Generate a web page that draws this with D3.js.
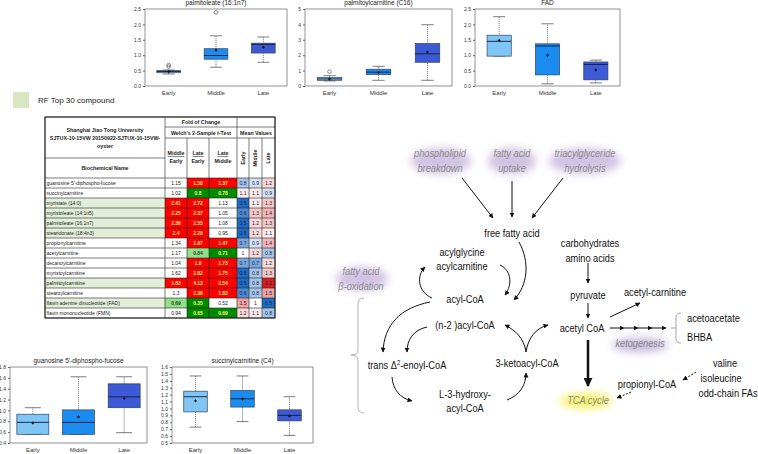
<!DOCTYPE html>
<html>
<head>
<meta charset="utf-8">
<script src="https://cdn.jsdelivr.net/npm/d3@7"></script>
<style>
body{margin:0;background:#fff;}
svg{font-family:"Liberation Sans",Arial,sans-serif;}
</style>
</head>
<body>
<div id="chart"></div>
<script>
// ---- box plot data: [whiskerLow, q1, median, q3, whiskerHigh, mean]
var groups = ["Early", "Middle", "Late"];
var groupColors = ["#7fc6f5", "#1a8cf0", "#3c5ad6"];

var palmitoleateStats = [[0.39,0.43,0.47,0.50,0.52,0.47],[0.61,0.87,0.99,1.21,1.63,1.16],[0.77,1.07,1.35,1.39,1.59,1.26]];
var palmitoleateOut = [[0.63,0.68],[2.39],[]];
var palmitoylStats = [[0.33,0.37,0.46,0.55,0.67,0.45],[0.37,0.74,0.90,1.09,1.28,0.88],[0.37,1.54,2.09,2.76,3.98,2.20]];
var palmitoylOut = [[0.93],[],[]];
var fadStats = [[0.97,0.97,1.45,1.65,2.25,1.48],[0.07,0.36,1.30,1.37,2.02,1.00],[0.10,0.20,0.70,0.78,0.84,0.52]];
var fadOut = [[],[],[]];
var gdpFucoseStats = [[0.56,0.56,0.78,0.93,1.05,0.77],[0.56,0.56,0.78,1.01,1.62,0.88],[0.59,1.05,1.25,1.49,1.62,1.22]];
var succinylStats = [[0.73,0.95,1.17,1.25,1.47,1.11],[0.81,1.02,1.14,1.26,1.47,1.14],[0.61,0.82,0.90,0.98,1.17,0.89]];

// ---- table data
var compounds = ["guanosine 5'-diphospho-fucose","succinylcarnitine","myristate (14:0)","myristoleate (14:1n5)","palmitoleate (16:1n7)","stearidonate (18:4n3)","propionylcarnitine","acetylcarnitine","decanoylcarnitine","myristoylcarnitine","palmitoylcarnitine","stearoylcarnitine","flavin adenine dinucleotide (FAD)","flavin mononucleotide (FMN)"];
var rfTop30 = [0,0,1,1,1,1,0,0,0,0,1,0,1,0];
var foldME = [1.15,1.02,2.41,2.25,2.36,2.4,1.34,1.17,1.04,1.62,1.63,1.3,0.69,0.94];
var foldLE = [1.58,0.8,2.72,2.37,2.55,2.29,1.97,0.84,1.8,2.82,4.13,2.38,0.35,0.65];
var foldLM = [1.37,0.78,1.13,1.05,1.08,0.95,1.47,0.71,1.73,1.75,2.54,1.83,0.52,0.69];
// 2 = p<=0.05, 1 = 0.05<p<0.10, 0 = n.s.
var sigME = [0,0,2,2,2,2,0,0,0,0,2,0,1,0];
var sigLE = [2,2,2,2,2,2,2,1,2,2,2,2,2,2];
var sigLM = [2,2,0,0,0,0,2,2,2,2,2,2,0,2];
var meanEarly = [0.8,1.1,0.5,0.6,0.5,0.5,0.7,1,0.7,0.5,0.5,0.6,1.5,1.2];
var meanMiddle = [0.9,1.1,1.1,1.3,1.2,1.2,0.9,1.2,0.7,0.8,0.8,0.8,1,1.1];
var meanLate = [1.2,0.9,1.3,1.4,1.3,1.1,1.4,0.8,1.2,1.3,2.2,1.5,0.5,0.8];

var svg = d3.select("#chart").append("svg").attr("width", 758).attr("height", 454);
var defs = svg.append("defs");
defs.append("filter").attr("id", "blur").attr("x", "-50%").attr("y", "-50%").attr("width", "200%").attr("height", "200%")
  .append("feGaussianBlur").attr("stdDeviation", 4);
defs.append("marker").attr("id", "arr").attr("viewBox", "0 0 10 10").attr("refX", 9).attr("refY", 5)
  .attr("markerWidth", 5).attr("markerHeight", 5).attr("markerUnits", "userSpaceOnUse").attr("orient", "auto")
  .append("path").attr("d", "M0,0L10,5L0,10z").attr("fill", "#111");
defs.append("marker").attr("id", "arrBig").attr("viewBox", "0 0 10 10").attr("refX", 9).attr("refY", 5)
  .attr("markerWidth", 9).attr("markerHeight", 9).attr("markerUnits", "userSpaceOnUse").attr("orient", "auto")
  .append("path").attr("d", "M0,0L10,5L0,10z").attr("fill", "#111");

// ---- box plot panels
function boxPanel(p) {
  var x = d3.scaleBand().domain(groups).range([p.x0, p.x1]);
  var y = d3.scaleLinear().domain(p.domain).range([p.y1, p.y0]);
  var g = svg.append("g");
  g.append("rect").attr("x", p.x0).attr("y", p.y0).attr("width", p.x1 - p.x0).attr("height", p.y1 - p.y0)
    .attr("fill", "none").attr("stroke", "#777").attr("stroke-width", 0.8);
  var ax = g.append("g").attr("transform", "translate(" + p.x0 + ",0)")
    .call(d3.axisLeft(y).tickValues(p.ticks).tickFormat(d3.format(p.fmt)).tickSize(2).tickPadding(2));
  ax.select(".domain").remove();
  ax.selectAll("line").attr("stroke", "#666");
  ax.selectAll("text").attr("fill", "#333").style("font-size", "5px").style("font-family", "Liberation Sans, Arial");
  g.append("text").attr("x", (p.x0 + p.x1) / 2).attr("y", p.y0 - 4).attr("text-anchor", "middle")
    .style("font-size", "6.5px").attr("fill", "#222").text(p.title);
  g.selectAll(".xl").data(groups).enter().append("text")
    .attr("x", function(d) { return x(d) + x.bandwidth() / 2; }).attr("y", p.y1 + 9)
    .attr("text-anchor", "middle").style("font-size", "6px").attr("fill", "#333").text(function(d) { return d; });
  var bw = x.bandwidth() * p.bw;
  p.stats.forEach(function(s, i) {
    var cx = x(groups[i]) + x.bandwidth() / 2;
    g.append("line").attr("x1", cx).attr("x2", cx).attr("y1", y(s[0])).attr("y2", y(s[4]))
      .attr("stroke", "#555").attr("stroke-width", 0.7).attr("stroke-dasharray", "1.2,0.8");
    [s[0], s[4]].forEach(function(v) {
      g.append("line").attr("x1", cx - bw / 4).attr("x2", cx + bw / 4).attr("y1", y(v)).attr("y2", y(v))
        .attr("stroke", "#444").attr("stroke-width", 0.7);
    });
    g.append("rect").attr("x", cx - bw / 2).attr("y", y(s[3])).attr("width", bw).attr("height", Math.max(1, y(s[1]) - y(s[3])))
      .attr("fill", groupColors[i]).attr("stroke", "#33415c").attr("stroke-width", 0.7);
    g.append("line").attr("x1", cx - bw / 2).attr("x2", cx + bw / 2).attr("y1", y(s[2])).attr("y2", y(s[2]))
      .attr("stroke", "#111a33").attr("stroke-width", 0.9);
    g.append("path").attr("d", "M" + (cx - 1.5) + "," + y(s[5]) + "h3M" + cx + "," + (y(s[5]) - 1.5) + "v3")
      .attr("stroke", "#111").attr("stroke-width", 0.7);
    g.append("circle").attr("cx", cx).attr("cy", y(s[5])).attr("r", 0.9).attr("fill", "#111");
    if (p.out) p.out[i].forEach(function(v) {
      g.append("circle").attr("cx", cx).attr("cy", y(v)).attr("r", 1.8).attr("fill", "none").attr("stroke", "#444").attr("stroke-width", 0.6);
    });
  });
}

boxPanel({x0: 145, x1: 287, y0: 9, y1: 86, domain: [0, 2.5], ticks: [0, 0.5, 1, 1.5, 2, 2.5], fmt: ".1f",
  title: "palmitoleate (16:1n7)", stats: palmitoleateStats, out: palmitoleateOut, bw: 0.5});
boxPanel({x0: 305, x1: 452, y0: 9, y1: 86, domain: [0, 5], ticks: [0, 1, 2, 3, 4, 5], fmt: "d",
  title: "palmitoylcarnitine (C16)", stats: palmitoylStats, out: palmitoylOut, bw: 0.5});
boxPanel({x0: 475, x1: 620, y0: 9, y1: 86, domain: [0, 2.5], ticks: [0, 0.5, 1, 1.5, 2, 2.5], fmt: ".1f",
  title: "FAD", stats: fadStats, out: fadOut, bw: 0.5});
boxPanel({x0: 10, x1: 147, y0: 367, y1: 443, domain: [0.4, 1.8], ticks: d3.range(0.4, 1.81, 0.2), fmt: ".1f",
  title: "guanosine 5'-diphospho-fucose", stats: gdpFucoseStats, bw: 0.7});
boxPanel({x0: 172, x1: 313, y0: 367, y1: 443, domain: [0.5, 1.6], ticks: d3.range(0.5, 1.61, 0.1), fmt: ".1f",
  title: "succinylcarnitine (C4)", stats: succinylStats, bw: 0.5});

// ---- legend
svg.append("rect").attr("x", 13).attr("y", 92).attr("width", 16).attr("height", 16).attr("fill", "#d8e6c4");
svg.append("text").attr("x", 38).attr("y", 103).style("font-size", "8px").attr("fill", "#222").text("RF Top 30 compound");

// ---- table
var colEdges = [45, 165, 187, 209, 237, 249, 262, 275];
var row = d3.scaleBand().domain(d3.range(compounds.length)).range([178, 318]);
var heat = d3.scaleLinear().domain([0.5, 1, 1.6, 2.2]).range(["#1f6cc4", "#ffffff", "#ec8f8f", "#d81e1e"]).clamp(true);
var tb = svg.append("g");
function foldFill(v, s) {
  if (s === 2) return v > 1 ? "#ff0000" : "#008a00";
  if (s === 1) return v > 1 ? "#f4a6a6" : "#92e08a";
  return "#ffffff";
}
function foldText(v, s) {
  if (s === 2) return v > 1 ? "#ffe873" : "#e4ff7a";
  if (s === 1) return "#1d4d1d";
  return "#222";
}
var folds = [[foldME, sigME], [foldLE, sigLE], [foldLM, sigLM]];
var means = [meanEarly, meanMiddle, meanLate];
compounds.forEach(function(name, i) {
  var ry = row(i), rh = row.bandwidth();
  tb.append("rect").attr("x", colEdges[0]).attr("y", ry).attr("width", colEdges[1] - colEdges[0]).attr("height", rh)
    .attr("fill", rfTop30[i] ? "#e3efd9" : "#fff");
  tb.append("text").attr("x", colEdges[0] + 1.5).attr("y", ry + rh / 2 + 1.8).style("font-size", "5px").attr("fill", "#222").text(name);
  folds.forEach(function(f, j) {
    var v = f[0][i], s = f[1][i];
    tb.append("rect").attr("x", colEdges[j + 1]).attr("y", ry).attr("width", colEdges[j + 2] - colEdges[j + 1]).attr("height", rh)
      .attr("fill", foldFill(v, s));
    tb.append("text").attr("x", (colEdges[j + 1] + colEdges[j + 2]) / 2).attr("y", ry + rh / 2 + 1.8)
      .attr("text-anchor", "middle").style("font-size", "5px").style("font-weight", s ? "bold" : "normal")
      .attr("fill", foldText(v, s)).text(v);
  });
  means.forEach(function(m, j) {
    tb.append("rect").attr("x", colEdges[j + 4]).attr("y", ry).attr("width", colEdges[j + 5] - colEdges[j + 4]).attr("height", rh)
      .attr("fill", heat(m[i]));
    tb.append("text").attr("x", (colEdges[j + 4] + colEdges[j + 5]) / 2).attr("y", ry + rh / 2 + 1.8)
      .attr("text-anchor", "middle").style("font-size", "5px").attr("fill", "#1c2340").text(m[i]);
  });
});
// grid lines
var gl = tb.append("g").attr("stroke", "#222").attr("stroke-width", 0.6);
compounds.forEach(function(n, i) {
  gl.append("line").attr("x1", 45).attr("x2", 275).attr("y1", row(i)).attr("y2", row(i));
});
gl.append("line").attr("x1", 45).attr("x2", 275).attr("y1", 318).attr("y2", 318);
colEdges.forEach(function(cx, k) {
  gl.append("line").attr("x1", cx).attr("x2", cx).attr("y1", k === 2 || k === 3 || k === 5 || k === 6 ? 138 : 117).attr("y2", 318);
});
gl.append("line").attr("x1", 45).attr("x2", 275).attr("y1", 117).attr("y2", 117);
gl.append("line").attr("x1", 165).attr("x2", 275).attr("y1", 127).attr("y2", 127);
gl.append("line").attr("x1", 165).attr("x2", 275).attr("y1", 138).attr("y2", 138);
gl.append("line").attr("x1", 45).attr("x2", 165).attr("y1", 158).attr("y2", 158);
gl.selectAll("line").attr("stroke-width", 0.6);
tb.append("rect").attr("x", 45).attr("y", 117).attr("width", 230).attr("height", 201).attr("fill", "none").attr("stroke", "#222").attr("stroke-width", 1);

var hd = tb.append("g").style("font-weight", "bold").attr("fill", "#222").attr("text-anchor", "middle").style("font-size", "5.3px");
hd.append("text").attr("x", 105).attr("y", 132).text("Shanghai Jiao Tong University");
hd.append("text").attr("x", 105).attr("y", 140).text("SJTUX-10-15VW 20150922-SJTUX-10-15VW-");
hd.append("text").attr("x", 105).attr("y", 148).text("oyster");
hd.append("text").attr("x", 105).attr("y", 170).text("Biochemical Name");
hd.append("text").attr("x", 201).attr("y", 124).text("Fold of Change");
hd.append("text").attr("x", 201).attr("y", 135).html("Welch's 2-Sample <tspan font-style='italic'>t</tspan>-Test");
hd.append("text").attr("x", 256).attr("y", 135).text("Mean Values");
var colHead = [["Middle", "Early"], ["Late", "Early"], ["Late", "Middle"]];
colHead.forEach(function(h, j) {
  var cx = (colEdges[j + 1] + colEdges[j + 2]) / 2;
  hd.append("text").attr("x", cx).attr("y", 155).style("text-decoration", "underline").text(h[0]);
  hd.append("text").attr("x", cx).attr("y", 163).text(h[1]);
});
groups.forEach(function(gname, j) {
  var cx = (colEdges[j + 4] + colEdges[j + 5]) / 2;
  hd.append("text").attr("transform", "translate(" + (cx + 1.8) + ",158) rotate(-90)").text(gname);
});

// ---- pathway diagram
var pw = svg.append("g");
function glow(cx, cy, rx, ry, col, op) {
  pw.append("ellipse").attr("cx", cx).attr("cy", cy).attr("rx", rx).attr("ry", ry)
    .attr("fill", col).attr("opacity", op).attr("filter", "url(#blur)");
}
glow(441, 161, 30, 13, "#c2b0da", 0.75);
glow(512, 161, 24, 13, "#c2b0da", 0.75);
glow(585, 161, 36, 13, "#c2b0da", 0.75);
glow(362, 279, 26, 12, "#c2b0da", 0.75);
glow(640, 345, 28, 7, "#b8a6d6", 0.8);
glow(586, 401, 26, 7, "#f4f04a", 0.9);

function label(txt, x, y, opt) {
  opt = opt || {};
  var t = pw.append("text").attr("transform", "translate(" + x + "," + y + ") scale(0.84,1)")
    .attr("text-anchor", opt.anchor || "middle").attr("dy", "0.35em")
    .style("font-size", "11px").attr("fill", opt.gray ? "#8a8a8a" : "#111");
  if (opt.gray) t.style("font-style", "italic");
  if (opt.html) t.html(txt); else t.text(txt);
}
label("phospholipid", 440, 153, {gray: 1}); label("breakdown", 440, 168, {gray: 1});
label("fatty acid", 512, 153, {gray: 1}); label("uptake", 512, 168, {gray: 1});
label("triacylglyceride", 585, 153, {gray: 1}); label("hydrolysis", 585, 168, {gray: 1});
label("free fatty acid", 512, 233);
label("carbohydrates", 590, 243); label("amino acids", 590, 258);
label("acylglycine", 462, 252); label("acylcarnitine", 462, 266);
label("acyl-CoA", 465, 299);
label("pyruvate", 588, 295);
label("acetyl-carnitine", 655, 292);
label("(n-2 )acyl-CoA", 465, 325);
label("acetyl CoA", 582, 328);
label("acetoacetate", 687, 318, {anchor: "start"});
label("BHBA", 687, 337, {anchor: "start"});
label("ketogenesis", 640, 343, {gray: 1});
label("fatty acid", 361, 271, {gray: 1}); label("\u03B2-oxidation", 361, 286, {gray: 1});
label("trans \u0394<tspan dy='-4' font-size='7px'>2</tspan><tspan dy='4'>-enoyl-CoA</tspan>", 407, 365, {html: 1});
label("3-ketoacyl-CoA", 527, 363);
label("L-3-hydroxy-", 465, 394); label("acyl-CoA", 465, 408);
label("propionyl-CoA", 647, 384);
label("valine", 725, 363); label("isoleucine", 721, 378); label("odd-chain FAs", 728, 393);
label("TCA cycle", 588, 400, {gray: 1});

function arrow(d, opt) {
  opt = opt || {};
  pw.append("path").attr("d", d).attr("fill", "none").attr("stroke", "#111")
    .attr("stroke-width", opt.w || 1).attr("stroke-dasharray", opt.dash || null)
    .attr("marker-end", opt.big ? "url(#arrBig)" : "url(#arr)");
}
arrow("M462,178L493,218");
arrow("M512,181L512,217");
arrow("M563,178L532,218");
arrow("M519,242C530,262 528,285 514,300");
arrow("M500,265C511,270 513,284 505,295");
arrow("M432,298C418,292 416,276 425,267");
arrow("M430,302C400,308 384,325 383,352");
arrow("M427,327C413,330 407,340 407,352");
arrow("M392,377C393,390 400,398 412,401");
arrow("M507,400C520,395 526,385 526,373");
arrow("M526,352C524,338 515,330 505,325");
arrow("M526,352C528,338 536,328 548,325");
arrow("M588,263L588,283");
arrow("M588,303L588,318");
arrow("M610,317L640,303");
[610, 624, 638, 652].forEach(function(sx) { arrow("M" + sx + ",328L" + (sx + 14) + ",328"); });
arrow("M588,340L588,386", {w: 2.5, big: 1});
arrow("M696,372L683,380", {dash: "2,1.5"});
arrow("M631,392L617,398", {dash: "2,1.5"});
// brackets
pw.append("path").attr("d", "M681,313Q676,313 676,317L676,339Q676,343 681,343M676,328L671,328")
  .attr("fill", "none").attr("stroke", "#999").attr("stroke-width", 0.9);
pw.append("path").attr("d", "M364,298Q358,298 358,304L358,350Q358,355 351,355Q358,355 358,360L358,407Q358,413 364,413")
  .attr("fill", "none").attr("stroke", "#aaa").attr("stroke-width", 0.9);
</script>
</body>
</html>
